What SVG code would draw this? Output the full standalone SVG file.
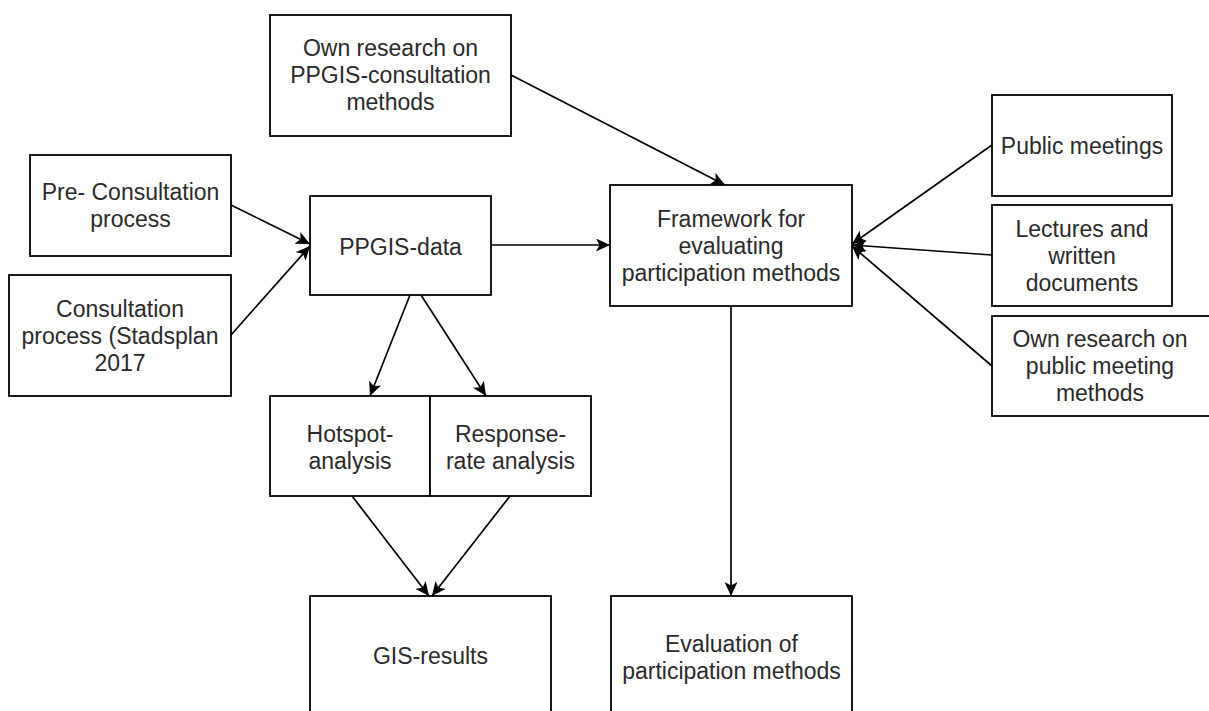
<svg xmlns="http://www.w3.org/2000/svg" width="1209" height="711" viewBox="0 0 1209 711">
<style>
.box{fill:#fff;stroke:#000;stroke-width:1.8}
.t{font-family:"Liberation Sans",Arial,sans-serif;font-size:23px;fill:#2a2a2a;text-anchor:middle}
.e{fill:none;stroke:#000;stroke-width:1.7;marker-end:url(#arr)}
</style>
<defs>
<marker id="arr" markerUnits="userSpaceOnUse" markerWidth="14" markerHeight="13" viewBox="0 0 14 13" refX="14" refY="6.5" orient="auto">
<path d="M0,0 L14,6.5 L0,13 L3.5,6.5 Z" fill="#000"/>
</marker>
</defs>
<rect width="1209" height="711" fill="#fff"/>
<g id="connectors">
<line class="e" x1="511" y1="75" x2="725" y2="185"/>
<line class="e" x1="231" y1="205" x2="310" y2="244"/>
<line class="e" x1="231" y1="335" x2="310" y2="246"/>
<line class="e" x1="491" y1="245" x2="610" y2="245"/>
<line class="e" x1="410" y1="295" x2="370" y2="396"/>
<line class="e" x1="421" y1="295" x2="486" y2="396"/>
<line class="e" x1="352" y1="496" x2="429" y2="596"/>
<line class="e" x1="510" y1="496" x2="432" y2="596"/>
<line class="e" x1="731" y1="306" x2="731" y2="596"/>
<line class="e" x1="992" y1="145" x2="852" y2="244"/>
<line class="e" x1="992" y1="255" x2="852" y2="245"/>
<line class="e" x1="992" y1="366" x2="852" y2="246"/>
</g>
<g id="own-research-ppgis">
<rect class="box" x="270" y="15" width="241" height="121"/>
<text class="t" x="390.5" y="56">Own research on</text>
<text class="t" x="390.5" y="83">PPGIS-consultation</text>
<text class="t" x="390.5" y="110">methods</text>
</g>
<g id="pre-consultation">
<rect class="box" x="30" y="155" width="201" height="101"/>
<text class="t" x="130.5" y="200">Pre- Consultation</text>
<text class="t" x="130.5" y="227">process</text>
</g>
<g id="consultation">
<rect class="box" x="9" y="275" width="222" height="121"/>
<text class="t" x="120" y="317">Consultation</text>
<text class="t" x="120" y="344">process (Stadsplan</text>
<text class="t" x="120" y="371">2017</text>
</g>
<g id="ppgis-data">
<rect class="box" x="310" y="196" width="181" height="99"/>
<text class="t" x="400.5" y="255">PPGIS-data</text>
</g>
<g id="framework">
<rect class="box" x="610" y="185" width="242" height="121"/>
<text class="t" x="731" y="227">Framework for</text>
<text class="t" x="731" y="254">evaluating</text>
<text class="t" x="731" y="281">participation methods</text>
</g>
<g id="public-meetings">
<rect class="box" x="992" y="95" width="180" height="101"/>
<text class="t" x="1082" y="154">Public meetings</text>
</g>
<g id="lectures">
<rect class="box" x="992" y="205" width="180" height="101"/>
<text class="t" x="1082" y="237">Lectures and</text>
<text class="t" x="1082" y="264">written</text>
<text class="t" x="1082" y="291">documents</text>
</g>
<g id="own-research-public">
<rect class="box" x="992" y="316" width="218" height="100"/>
<text class="t" x="1100" y="347">Own research on</text>
<text class="t" x="1100" y="374">public meeting</text>
<text class="t" x="1100" y="401">methods</text>
</g>
<g id="hotspot">
<rect class="box" x="270" y="396" width="160" height="100"/>
<text class="t" x="350" y="442">Hotspot-</text>
<text class="t" x="350" y="469">analysis</text>
</g>
<g id="response">
<rect class="box" x="430" y="396" width="161" height="100"/>
<text class="t" x="510.5" y="442">Response-</text>
<text class="t" x="510.5" y="469">rate analysis</text>
</g>
<g id="gis-results">
<rect class="box" x="310" y="596" width="241" height="121"/>
<text class="t" x="430.5" y="664">GIS-results</text>
</g>
<g id="evaluation">
<rect class="box" x="611" y="596" width="241" height="121"/>
<text class="t" x="731.5" y="652">Evaluation of</text>
<text class="t" x="731.5" y="679">participation methods</text>
</g>
</svg>
